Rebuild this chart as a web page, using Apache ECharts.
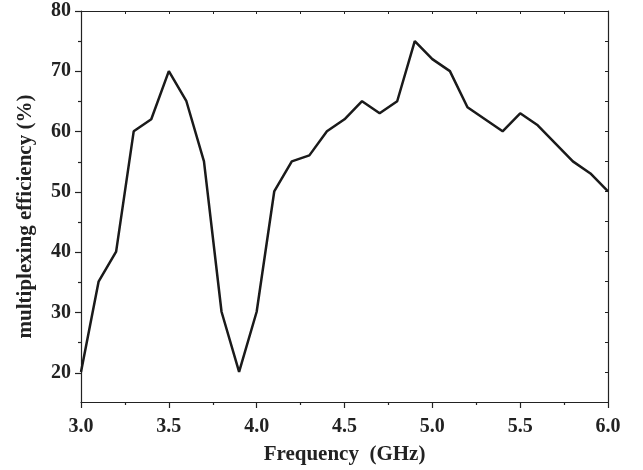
<!DOCTYPE html>
<html>
<head>
<meta charset="utf-8">
<script src="https://cdn.jsdelivr.net/npm/echarts@6/dist/echarts.min.js"></script>
<style>
  html, body { margin: 0; padding: 0; background: #fff; }
  #chart { width: 643px; height: 470px; }
</style>
</head>
<body>
<div id="chart"></div>
<script>
// frequency (GHz) and efficiency (%)
const freq = [3.0, 3.1, 3.2, 3.3, 3.4, 3.5, 3.6, 3.7, 3.8, 3.9, 4.0,
  4.1, 4.2, 4.3, 4.4, 4.5, 4.6, 4.7, 4.8, 4.9, 5.0,
  5.1, 5.2, 5.3, 5.4, 5.5, 5.6, 5.7, 5.8, 5.9, 6.0];
const efficiency = [20, 35, 40, 60, 62, 70, 65, 55, 30, 20, 30,
  50, 55, 56, 60, 62, 65, 63, 65, 75, 72,
  70, 64, 62, 60, 63, 61, 58, 55, 53, 50];

const font = 'Liberation Serif';
const ink = '#222';

// main plot box; y runs 15..80 over 392px
const gridTop = 11, gridBottom = 67;
const pxPerUnit = (470 - gridTop - gridBottom) / 65;

const chart = echarts.init(document.getElementById('chart'));
chart.setOption({
  animation: false,
  grid: [
    { left: 81, right: 35, top: gridTop, bottom: gridBottom },
    // overlay grid for the labelled left ticks, covering 20..80 only
    { left: 81, right: 35, top: gridTop, bottom: gridBottom + 5 * pxPerUnit }
  ],
  xAxis: [
    {
      type: 'value',
      min: 3,
      max: 6,
      interval: 0.5,
      name: 'Frequency  (GHz)',
      nameLocation: 'middle',
      nameGap: 42,
      nameTextStyle: { fontFamily: font, fontWeight: 'bold', fontSize: 21, color: ink },
      axisLine: { show: true, onZero: false, lineStyle: { color: ink, width: 1.2 } },
      axisTick: { show: true, length: 6, lineStyle: { color: ink, width: 1.2 } },
      minorTick: { show: true, splitNumber: 2, length: 3, lineStyle: { color: ink, width: 1.2 } },
      axisLabel: {
        fontFamily: font, fontWeight: 'bold', fontSize: 20, color: ink, margin: 15,
        formatter: v => v.toFixed(1)
      },
      splitLine: { show: false }
    },
    {
      type: 'value',
      position: 'top',
      min: 3,
      max: 6,
      interval: 0.25,
      axisLine: { show: true, onZero: false, lineStyle: { color: ink, width: 1.2 } },
      axisTick: { show: true, inside: true, length: 3, lineStyle: { color: ink, width: 1 } },
      axisLabel: { show: false },
      splitLine: { show: false }
    },
    {
      type: 'value',
      gridIndex: 1,
      min: 3,
      max: 6,
      show: false
    }
  ],
  yAxis: [
    {
      type: 'value',
      position: 'left',
      min: 15,
      max: 80,
      name: 'multiplexing efficiency (%)',
      nameLocation: 'middle',
      nameGap: 45,
      nameTextStyle: {
        fontFamily: font, fontWeight: 'bold', fontSize: 21, color: ink,
        padding: [0, 20, 0, 0]
      },
      axisLine: { show: true, onZero: false, lineStyle: { color: ink, width: 1.2 } },
      axisTick: { show: false },
      axisLabel: { show: false },
      splitLine: { show: false }
    },
    {
      type: 'value',
      position: 'right',
      min: 15,
      max: 80,
      interval: 5,
      axisLine: { show: true, onZero: false, lineStyle: { color: ink, width: 1.2 } },
      axisTick: { show: true, inside: true, length: 3, lineStyle: { color: ink, width: 1 } },
      axisLabel: { show: false },
      splitLine: { show: false }
    },
    {
      type: 'value',
      gridIndex: 1,
      position: 'left',
      min: 20,
      max: 80,
      interval: 10,
      axisLine: { show: false },
      axisTick: { show: true, length: 6, lineStyle: { color: ink, width: 1.2 } },
      minorTick: { show: true, splitNumber: 2, length: 3, lineStyle: { color: ink, width: 1.2 } },
      axisLabel: { fontFamily: font, fontWeight: 'bold', fontSize: 20, color: ink, margin: 10 },
      splitLine: { show: false }
    }
  ],
  series: [
    {
      type: 'line',
      xAxisIndex: 0,
      yAxisIndex: 0,
      data: freq.map((f, i) => [f, efficiency[i]]),
      symbol: 'none',
      lineStyle: { color: '#1a1a1a', width: 2.5 }
    }
  ]
});
</script>
</body>
</html>
